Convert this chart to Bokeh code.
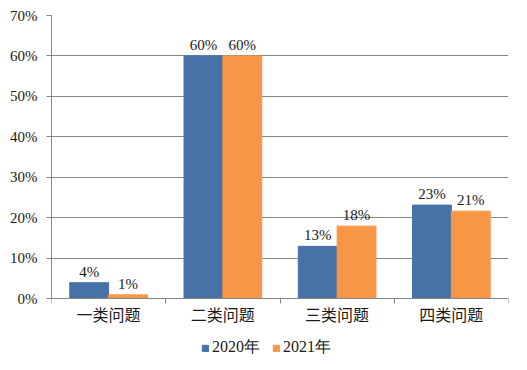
from bokeh.plotting import figure
from bokeh.models import (ColumnDataSource, Range1d, FixedTicker, PrintfTickFormatter,
                          Legend, LegendItem)
from bokeh.transform import dodge
from bokeh.core.properties import value
from bokeh.embed import file_html
from bokeh.resources import INLINE

categories = ["一类问题", "二类问题", "三类问题", "四类问题"]
series_names = ["2020年", "2021年"]
values_2020 = [3.9, 60.0, 12.9, 23.1]
values_2021 = [0.9, 60.0, 17.9, 21.6]
labels_2020 = ["4%", "60%", "13%", "23%"]
labels_2021 = ["1%", "60%", "18%", "21%"]
y_ticks = [0, 10, 20, 30, 40, 50, 60, 70]

colors = ["#4672A8", "#F79646"]
serif = "Liberation Serif"
cjk = "Noto Sans CJK SC"
txt = "#1a1a1a"
grey = "#878787"

W, H = 511, 362
top_px, zero_px = 15, 298          # layout: pixel rows of 70% and 0%
px_per_unit = (zero_px - top_px) / 70.0
y_start = -(H - zero_px) / px_per_unit   # room below zero for labels and legend

pos = [i + 0.5 for i in range(len(categories))]
src = ColumnDataSource(dict(x=pos, v20=values_2020, v21=values_2021,
                            l20=labels_2020, l21=labels_2021))

p = figure(width=W, height=H, output_backend="svg", toolbar_location=None,
           x_range=Range1d(0, len(categories)), y_range=Range1d(y_start, 70),
           min_border_left=51, min_border_right=3, min_border_top=top_px, min_border_bottom=0)
p.outline_line_color = None
p.background_fill_color = "white"

bw = 0.34
r1 = p.vbar(x=dodge("x", -bw / 2), top="v20", bottom=0, width=bw, source=src, color=colors[0])
r2 = p.vbar(x=dodge("x", bw / 2), top="v21", bottom=0, width=bw, source=src, color=colors[1])

for col, lab, off in (("v20", "l20", -bw / 2), ("v21", "l21", bw / 2)):
    p.text(x=dodge("x", off), y=col, text=lab, source=src, text_align="center",
           text_baseline="alphabetic", y_offset=-11, text_font=value(serif),
           text_font_size="15px", text_color=txt)

# y axis
p.yaxis.ticker = FixedTicker(ticks=y_ticks)
p.yaxis.bounds = (0, 70)
p.yaxis.formatter = PrintfTickFormatter(format="%d%%")
p.yaxis.major_label_text_font = serif
p.yaxis.major_label_text_font_size = "15px"
p.yaxis.major_label_text_color = txt
p.yaxis.major_tick_line_color = grey
p.yaxis.major_tick_out = 5
p.yaxis.major_tick_in = 0
p.yaxis.minor_tick_line_color = None
p.yaxis.axis_line_color = grey
p.yaxis.major_label_standoff = 9
p.ygrid.ticker = FixedTicker(ticks=y_ticks)
p.ygrid.grid_line_color = grey

# x axis at zero: labels at category centres, ticks at boundaries
p.xaxis.fixed_location = 0
p.xaxis.ticker = FixedTicker(ticks=pos, minor_ticks=list(range(len(categories) + 1)))
p.xaxis.major_label_overrides = {pv: c for pv, c in zip(pos, categories)}
p.xaxis.major_tick_line_color = None
p.xaxis.major_tick_out = 0
p.xaxis.major_tick_in = 0
p.xaxis.minor_tick_line_color = grey
p.xaxis.minor_tick_out = 5
p.xaxis.minor_tick_in = 0
p.xaxis.axis_line_color = grey
p.xaxis.major_label_text_font = cjk
p.xaxis.major_label_text_font_size = "16px"
p.xaxis.major_label_text_color = txt
p.xaxis.major_label_standoff = -2
p.xgrid.grid_line_color = None

legend = Legend(items=[LegendItem(label=series_names[0], renderers=[r1]),
                       LegendItem(label=series_names[1], renderers=[r2])],
                orientation="horizontal", location=(150, 4),
                label_text_font=serif, label_text_font_size="16px",
                label_text_color=txt,
                glyph_width=8, glyph_height=8, spacing=12, label_standoff=3,
                padding=0, margin=0, border_line_color=None, background_fill_alpha=0)
p.add_layout(legend)

open("out.html", "w").write(file_html(p, INLINE))
